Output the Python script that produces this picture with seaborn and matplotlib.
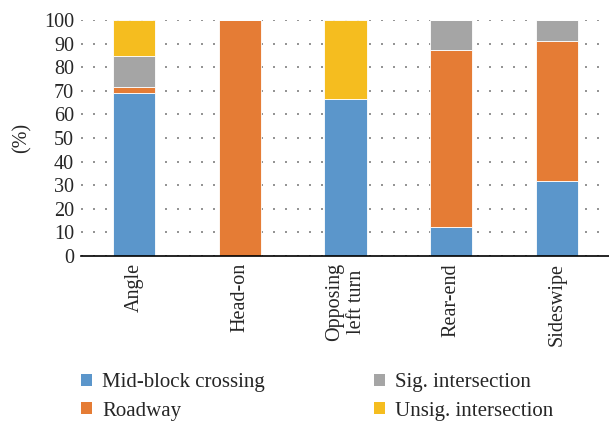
import matplotlib
matplotlib.use("Agg")
import matplotlib.pyplot as plt
import seaborn as sns
import pandas as pd
from matplotlib.patches import Patch

categories = ["Angle", "Head-on", "Opposing\nleft turn", "Rear-end", "Sideswipe"]
series = ["Mid-block crossing", "Roadway", "Sig. intersection", "Unsig. intersection"]
mid_block = [69.2, 0.0, 66.7, 12.5, 31.8]
roadway = [2.6, 100.0, 0.0, 75.0, 59.1]
sig_inter = [12.8, 0.0, 0.0, 12.5, 9.1]
unsig_inter = [15.4, 0.0, 33.3, 0.0, 0.0]
yticks = list(range(0, 101, 10))

colors = ["#5B96CB", "#E57C35", "#A5A5A5", "#F5BD1F"]

sns.set_style("white")
plt.rcParams["font.family"] = ["Liberation Serif", "DejaVu Serif"]

fig = plt.figure(figsize=(6.09, 4.26), dpi=100)
ax = fig.add_axes([81/609, 1-256/426, (610-81)/609, (256-20)/426])

values = [mid_block, roadway, sig_inter, unsig_inter]
bottom = [0.0] * len(categories)
for name, vals, col in zip(series, values, colors):
    df = pd.DataFrame({"cat": categories, "val": vals})
    sns.barplot(data=df, x="cat", y="val", order=categories, color=col,
                bottom=bottom, width=0.4, ax=ax, edgecolor="white",
                linewidth=0.6, saturation=1, zorder=3)
    bottom = [b + v for b, v in zip(bottom, vals)]

ax.set_ylim(0, 100)
ax.set_xlim(-0.5, 4.5)
ax.set_yticks(yticks)
ax.set_yticklabels([str(t) for t in yticks], fontsize=14.5)
ax.set_xticks(range(len(categories)))
ax.set_xticklabels(categories, rotation=90, fontsize=14.5, va="top", ha="center",
                   linespacing=1.15)
ax.set_xlabel("")
ax.set_ylabel("(%)", fontsize=14.5, labelpad=9)
ax.yaxis.grid(True, linestyle=(0, (1.2, 6)), color="#808080", linewidth=1.2, zorder=0)
ax.xaxis.grid(False)
for s in ["top", "right", "left"]:
    ax.spines[s].set_visible(False)
ax.spines["bottom"].set_color("black")
ax.spines["bottom"].set_linewidth(1.2)
ax.spines["bottom"].set_zorder(5)
ax.tick_params(axis="both", length=0, pad=5)

handles = [Patch(facecolor=c, edgecolor="none") for c in colors]
leg_kw = dict(loc="center left", frameon=False, fontsize=15,
              handlelength=0.53, handleheight=0.53, handletextpad=0.5,
              labelspacing=0.45, borderaxespad=0, borderpad=0)
fig.legend(handles[:2], series[:2], bbox_to_anchor=(81/609, 1-397/426), **leg_kw)
fig.legend(handles[2:], series[2:], bbox_to_anchor=(374/609, 1-397/426), **leg_kw)

fig.savefig("out.png", dpi=100)
